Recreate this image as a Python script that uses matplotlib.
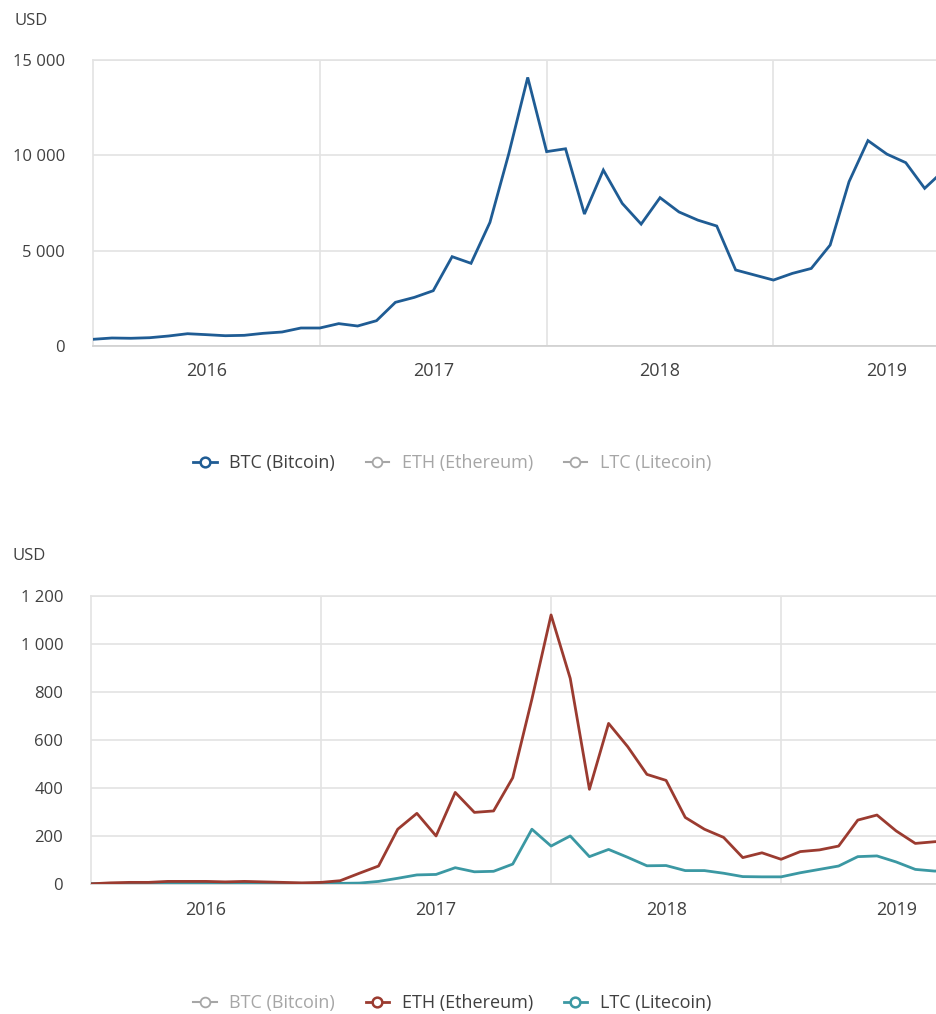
import matplotlib
matplotlib.use("Agg")
import matplotlib.pyplot as plt
from matplotlib.lines import Line2D
from matplotlib.ticker import FuncFormatter, FixedLocator
import numpy as np

plt.rcParams['font.family'] = ['Open Sans', 'DejaVu Sans']

# monthly closing prices, Jan 2016 .. Oct 2019
years = ["2016", "2017", "2018", "2019"]
btc = [336, 405, 390, 420, 510, 630, 580, 525, 545, 650, 720, 930,
       930, 1160, 1035, 1315, 2280, 2540, 2890, 4680, 4330, 6480, 10100, 14100,
       10200, 10350, 6920, 9230, 7480, 6390, 7780, 7030, 6600, 6290, 3980, 3715,
       3450, 3800, 4060, 5290, 8620, 10780, 10070, 9620, 8270, 9200]
eth = [2, 6, 8, 8, 12, 12, 12, 10, 12, 10, 8, 6,
       8, 15, 46, 76, 229, 295, 201, 382, 299, 305, 443, 770,
       1120, 856, 395, 669, 572, 457, 432, 278, 229, 195, 111, 131,
       104, 136, 143, 159, 267, 288, 222, 170, 177, 182]
ltc = [3, 3, 3, 4, 4, 4, 4, 4, 4, 4, 4, 4,
       4, 4, 5, 12, 25, 39, 41, 69, 52, 54, 84, 229,
       159, 201, 115, 145, 112, 77, 78, 57, 57, 46, 32, 31,
       31, 48, 62, 76, 115, 118, 93, 62, 55, 57]
names = ["BTC (Bitcoin)", "ETH (Ethereum)", "LTC (Litecoin)"]

C_BTC = "#1f5c94"
C_ETH = "#9b3b30"
C_LTC = "#3b98a3"
C_OFF = "#a6a6a6"
GRID = "#e3e3e3"
TXT = "#404040"

x = np.arange(len(btc))

W, H = 936, 1014
fig = plt.figure(figsize=(W / 100, H / 100), dpi=100)


def space_fmt(v, pos):
    return f"{int(round(v)):,}".replace(",", " ")


def style_axes(ax, ymax, ystep, xmax):
    ax.set_xlim(0, xmax)
    ax.set_ylim(0, ymax)
    ax.yaxis.set_major_locator(FixedLocator(np.arange(0, ymax + 1, ystep)))
    ax.yaxis.set_major_formatter(FuncFormatter(space_fmt))
    ax.xaxis.set_major_locator(FixedLocator([12, 24, 36]))
    ax.xaxis.set_minor_locator(FixedLocator([6, 18, 30, 42]))
    ax.xaxis.set_major_formatter(FuncFormatter(lambda v, p: ""))
    ax.set_xticklabels(years, minor=True)
    ax.grid(True, axis="both", which="major", color=GRID, lw=1.2, zorder=0)
    ax.tick_params(axis="both", which="both", length=0, labelcolor=TXT)
    ax.tick_params(axis="y", pad=20, labelsize=12)
    ax.tick_params(axis="x", which="minor", pad=12, labelsize=13)
    ax.spines["right"].set_visible(False)
    ax.spines["top"].set_color(GRID)
    ax.spines["left"].set_color(GRID)
    ax.spines["bottom"].set_color("#d0d0d0")
    for s in ["top", "left", "bottom"]:
        ax.spines[s].set_linewidth(1.2)


def legend_handles(active):
    hs = []
    for n, c, a in zip(names, [C_BTC, C_ETH, C_LTC], active):
        col = c if a else C_OFF
        hs.append(Line2D([0], [0], color=col, lw=2 if a else 1.5, marker="o",
                         markersize=7, markerfacecolor="white",
                         markeredgecolor=col, markeredgewidth=1.8 if a else 1.3))
    return hs


def add_legend(active, ycen):
    leg = fig.legend(legend_handles(active), names, loc="center",
                     bbox_to_anchor=(0.483, 1 - ycen / H), ncol=3, frameon=False,
                     fontsize=13, handlelength=1.3, handletextpad=0.7,
                     columnspacing=1.7)
    for t, a in zip(leg.get_texts(), active):
        t.set_color(TXT if a else C_OFF)


# top panel: BTC
ax1 = fig.add_axes([93 / W, 1 - 345.7 / H, (W - 93) / W, 285.4 / H])
ax1.plot(x, btc, color=C_BTC, lw=2, zorder=3, solid_joinstyle="miter")
style_axes(ax1, 15000, 5000, 44.6)
fig.text(15 / W, 1 - 21 / H, "USD", fontsize=12, color=TXT, va="center")
add_legend([True, False, False], 463)

# bottom panel: ETH and LTC
ax2 = fig.add_axes([91 / W, 1 - 884.3 / H, (W - 91) / W, 288.6 / H])
ax2.plot(x, ltc, color=C_LTC, lw=2, zorder=3)
ax2.plot(x, eth, color=C_ETH, lw=2, zorder=4)
style_axes(ax2, 1200, 200, 44.08)
fig.text(12 / W, 1 - 556 / H, "USD", fontsize=12, color=TXT, va="center")
add_legend([False, True, True], 1003)

fig.savefig("out.png", dpi=100, facecolor="white")
